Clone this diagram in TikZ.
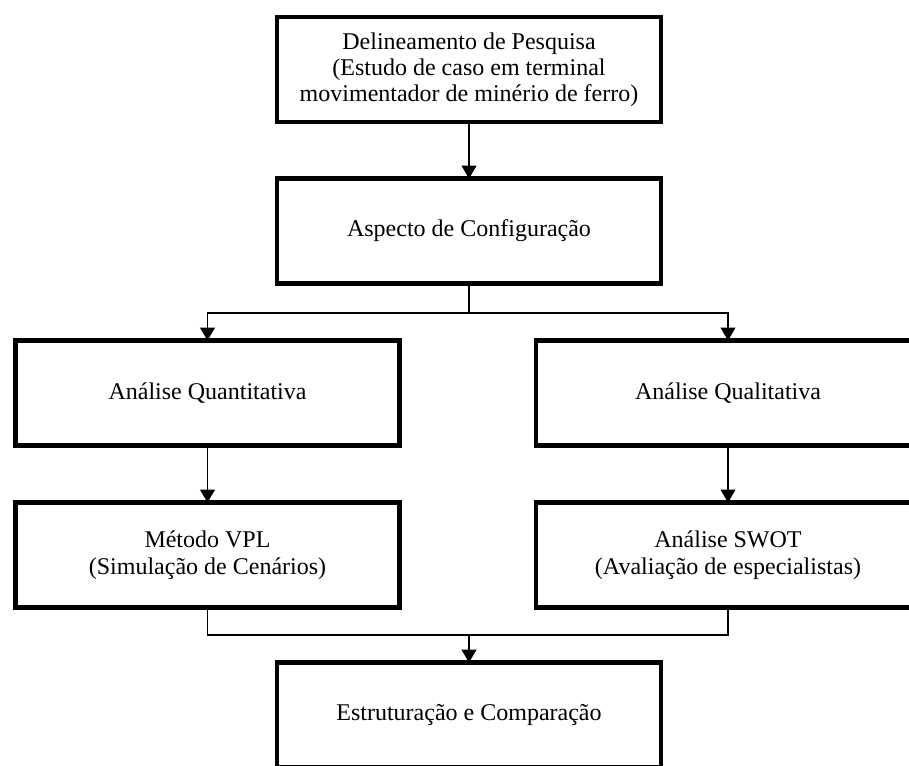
\documentclass[tikz,border=0pt]{standalone}
\usepackage{fontspec}
\setmainfont{Liberation Serif}
\usetikzlibrary{arrows.meta}
\begin{document}
\begin{tikzpicture}[x=1pt,y=-1pt,
  box/.style={draw=black,line width=4.5pt,rectangle,minimum width=384pt,minimum height=105pt,
    inner sep=0pt,outer sep=0pt,align=center,font=\fontsize{24}{26}\selectfont},
  conn/.style={draw=black,line width=1.4pt},
  tip/.style={conn,-{Triangle[length=13pt,width=15pt]}}]
\useasboundingbox (0,0) rectangle (909,765);
\clip (0,0) rectangle (909,765);
\fill[white] (0,0) rectangle (909,765);
\node[box] (b1) at (469,69.5) {Delineamento de Pesquisa\\(Estudo de caso em terminal\\movimentador de minério de ferro)};
\node[box] (b2) at (469,231) {Aspecto de Configuração};
\node[box] (qt) at (207.5,393) {Análise Quantitativa};
\node[box] (ql) at (728,393) {Análise Qualitativa};
\node[box,font=\fontsize{24}{27}\selectfont] (vpl) at (207.5,555) {Método VPL\\(Simulação de Cenários)};
\node[box,font=\fontsize{24}{27}\selectfont] (swot) at (728,555) {Análise SWOT\\(Avaliação de especialistas)};
\node[box] (ec) at (469,715) {Estruturação e Comparação};
\coordinate (j1) at (469,313);
\coordinate (j2) at (469,635);
\draw[tip] (b1.south) -- (b2.north);
\draw[conn] (b2.south) -- (j1);
\draw[tip] (j1) -| (qt.north);
\draw[tip] (j1) -| (ql.north);
\draw[tip] (qt.south) -- (vpl.north);
\draw[tip] (ql.south) -- (swot.north);
\draw[conn] (vpl.south) |- (j2);
\draw[conn] (swot.south) |- (j2);
\draw[tip] (j2) -- (ec.north);
\end{tikzpicture}
\end{document}
